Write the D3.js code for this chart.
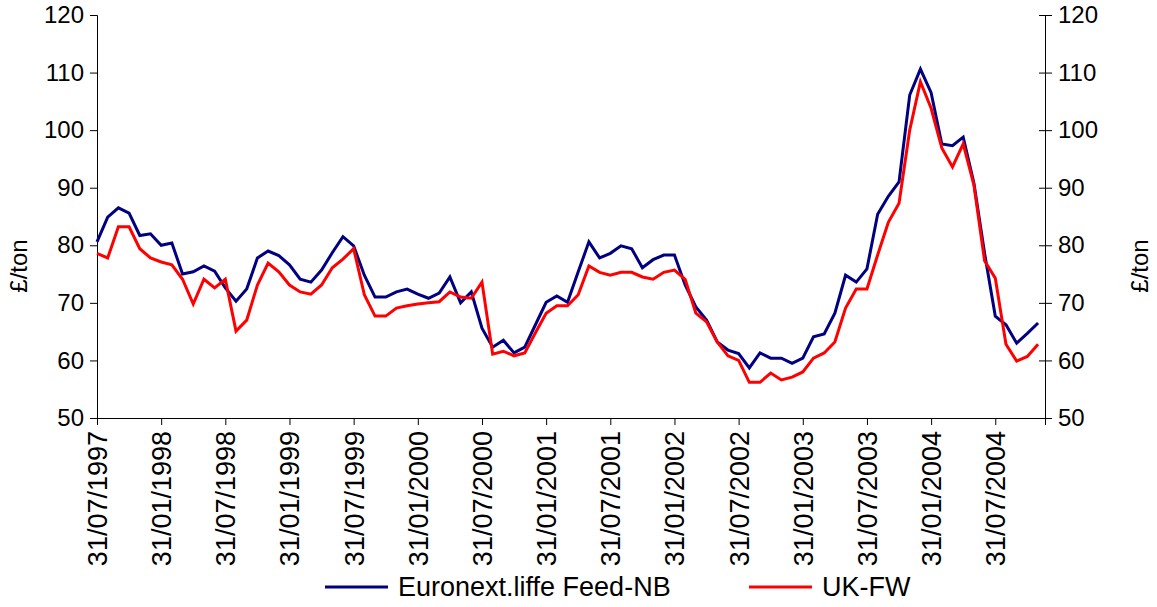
<!DOCTYPE html>
<html>
<head>
<meta charset="utf-8">
<script src="https://cdn.jsdelivr.net/npm/d3@7"></script>
<style>
  body { margin: 0; background: #fff; }
  svg text { font-family: "Liberation Sans", Arial, sans-serif; fill: #000; }
</style>
</head>
<body>
<svg id="chart" width="1157" height="607"></svg>
<script>
// 월별 데이터 (31/07/1997 ~ 30/11/2004)
const tickLabels = ["31/07/1997", "31/01/1998", "31/07/1998", "31/01/1999", "31/07/1999",
  "31/01/2000", "31/07/2000", "31/01/2001", "31/07/2001", "31/01/2002", "31/07/2002",
  "31/01/2003", "31/07/2003", "31/01/2004", "31/07/2004"];

const euronext = [80.6, 84.9, 86.5, 85.6, 81.7, 82.0, 80.0, 80.4, 75.0, 75.4,
  76.4, 75.5, 72.6, 70.3, 72.4, 77.8, 79.0, 78.2, 76.6, 74.1,
  73.6, 75.7, 78.7, 81.5, 79.9, 74.8, 71.0, 71.0, 71.9, 72.4,
  71.5, 70.8, 71.7, 74.5, 70.0, 71.9, 65.6, 62.3, 63.5, 61.3,
  62.3, 66.2, 70.1, 71.2, 70.1, 75.4, 80.6, 77.8, 78.6, 79.9,
  79.4, 76.1, 77.5, 78.3, 78.3, 73.1, 69.3, 67.0, 63.2, 61.8,
  61.2, 58.7, 61.3, 60.4, 60.4, 59.5, 60.4, 64.1, 64.6, 68.2,
  74.8, 73.6, 75.9, 85.4, 88.5, 91.0, 106.1, 110.6, 106.5, 97.6,
  97.3, 98.8, 90.8, 78.6, 67.7, 66.2, 63.0, 64.7, 66.5];

const ukfw = [78.6, 77.8, 83.2, 83.2, 79.4, 77.8, 77.1, 76.6, 74.1, 69.8,
  74.1, 72.6, 74.1, 65.1, 67.0, 73.1, 76.9, 75.4, 73.1, 71.9,
  71.5, 73.1, 76.1, 77.6, 79.4, 71.4, 67.7, 67.7, 69.1, 69.5,
  69.8, 70.0, 70.2, 71.9, 71.0, 70.8, 73.6, 61.1, 61.6, 60.8,
  61.3, 64.8, 68.2, 69.5, 69.5, 71.4, 76.4, 75.3, 74.8, 75.3,
  75.3, 74.5, 74.1, 75.3, 75.7, 74.1, 68.2, 66.7, 63.2, 60.8,
  60.0, 56.2, 56.2, 57.8, 56.6, 57.1, 58.0, 60.4, 61.3, 63.2,
  69.1, 72.4, 72.4, 78.3, 84.0, 87.3, 100.0, 108.4, 103.8, 96.9,
  93.6, 97.6, 90.5, 77.3, 74.3, 62.8, 59.9, 60.7, 62.8];

const seriesNames = ["Euronext.liffe Feed-NB", "UK-FW"];
const seriesColors = ["#000080", "#ff0000"];
const yTicks = [50, 60, 70, 80, 90, 100, 110, 120];

const svg = d3.select("#chart");
const margin = { top: 15, right: 112, bottom: 189, left: 97 };
const width = 1157 - margin.left - margin.right;
const height = 607 - margin.top - margin.bottom;

const g = svg.append("g")
  .attr("transform", `translate(${margin.left},${margin.top})`);

const x = d3.scaleLinear()
  .domain([0, 88.65])
  .range([0, width]);

const y = d3.scaleLinear()
  .domain([50, 120])
  .range([height, 0]);

// 왼쪽 축
const yLeft = g.append("g")
  .call(d3.axisLeft(y).tickValues(yTicks).tickSize(7).tickPadding(6));
yLeft.selectAll("text").style("font-size", "24px");

// 오른쪽 축 (눈금이 축을 가로지름)
const yRight = g.append("g")
  .attr("transform", `translate(${width},0)`)
  .call(d3.axisRight(y).tickValues(yTicks).tickSize(7).tickPadding(6));
yRight.selectAll(".tick line").attr("x1", -6);
yRight.selectAll("text").style("font-size", "24px");

// x축
const xAxis = g.append("g")
  .attr("transform", `translate(0,${height})`)
  .call(d3.axisBottom(x)
    .tickValues(tickLabels.map((d, i) => i * 6))
    .tickFormat((d, i) => tickLabels[i])
    .tickSize(7)
    .tickPadding(0));
xAxis.selectAll("text")
  .attr("transform", "rotate(-90)")
  .attr("x", -13)
  .attr("y", 0)
  .attr("dy", "0.35em")
  .style("text-anchor", "end")
  .style("font-size", "27px");

svg.selectAll(".domain").attr("stroke", "#000");
svg.selectAll(".tick line").attr("stroke", "#000");

// 축 제목
svg.append("text")
  .attr("transform", "translate(27,266) rotate(-90)")
  .attr("text-anchor", "middle")
  .style("font-size", "24px")
  .text("£/ton");

svg.append("text")
  .attr("transform", "translate(1148,266) rotate(-90)")
  .attr("text-anchor", "middle")
  .style("font-size", "24px")
  .text("£/ton");

// 선
const line = d3.line()
  .x((d, i) => x(i))
  .y(d => y(d));

[euronext, ukfw].forEach((s, k) => {
  g.append("path")
    .datum(s)
    .attr("fill", "none")
    .attr("stroke", seriesColors[k])
    .attr("stroke-width", 3)
    .attr("d", line);
});

// 범례
const legendX = [325, 749];
seriesNames.forEach((name, k) => {
  svg.append("line")
    .attr("x1", legendX[k]).attr("x2", legendX[k] + 63)
    .attr("y1", 587).attr("y2", 587)
    .attr("stroke", seriesColors[k])
    .attr("stroke-width", 3);
  svg.append("text")
    .attr("x", legendX[k] + 73)
    .attr("y", 587)
    .attr("dy", "0.35em")
    .style("font-size", "27px")
    .text(name);
});
</script>
</body>
</html>
